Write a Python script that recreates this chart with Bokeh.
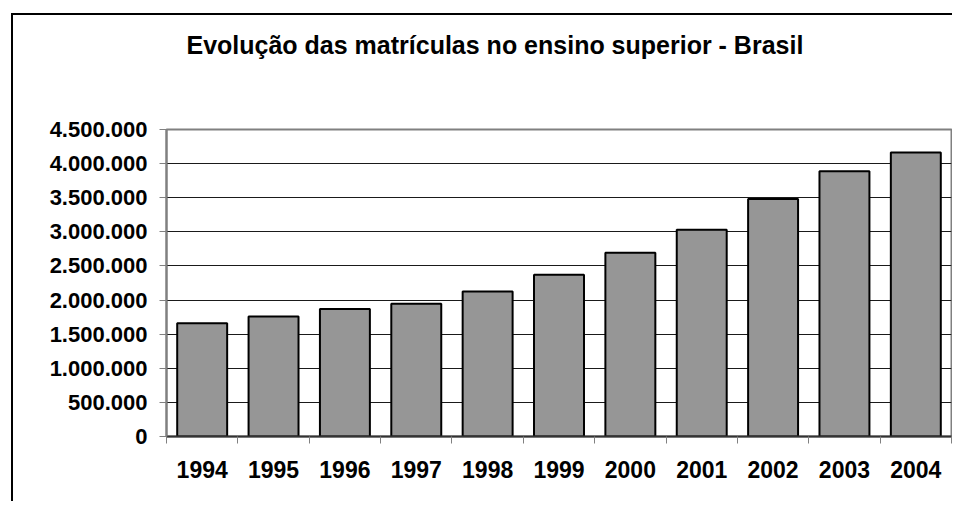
from bokeh.plotting import figure
from bokeh.models import (ColumnDataSource, FixedTicker, Range1d, Title,
                          CustomJSTickFormatter)
from bokeh.embed import file_html
from bokeh.resources import INLINE

# ---- data ----
years = ["1994", "1995", "1996", "1997", "1998", "1999",
         "2000", "2001", "2002", "2003", "2004"]
matriculas = [1661034, 1759703, 1868529, 1945615, 2125958, 2369945,
              2694245, 3030754, 3479913, 3887022, 4163733]
y_ticks = [0, 500000, 1000000, 1500000, 2000000, 2500000,
           3000000, 3500000, 4000000, 4500000]
title_text = "Evolução das matrículas no ensino superior - Brasil"

FONT = "Liberation Sans"

centers = [i + 0.5 for i in range(len(years))]
bounds = list(range(len(years) + 1))

src = ColumnDataSource(dict(x=centers, top=matriculas, year=years))

p = figure(width=941, height=488, output_backend="svg", toolbar_location=None,
           x_range=Range1d(0, len(years)), y_range=Range1d(0, y_ticks[-1]),
           min_border_left=153, min_border_right=3, min_border_top=0,
           min_border_bottom=67, title=None,
           background_fill_color="white", border_fill_color="white")

p.styles = {"margin-left": "11px", "margin-top": "13px",
            "border-left": "2px solid black", "border-top": "2px solid black"}

# titles (spacer first so it sits next to the frame)
p.add_layout(Title(text=" ", text_font_size="10px", standoff=44), "above")
p.add_layout(Title(text=title_text, text_font=FONT, text_font_size="25px",
                   text_font_style="bold", text_color="black", align="left",
                   offset=20, standoff=27), "above")

p.vbar(x="x", top="top", width=0.7, source=src, fill_color="#969696",
       line_color="black", line_width=2)

# frame
p.outline_line_color = "#808080"
p.outline_line_width = 2

# grid
p.xgrid.visible = False
p.ygrid.ticker = FixedTicker(ticks=y_ticks)
p.ygrid.grid_line_color = "#1a1a1a"
p.ygrid.grid_line_width = 1

# y axis
ya = p.yaxis[0]
ya.ticker = FixedTicker(ticks=y_ticks)
ya.formatter = CustomJSTickFormatter(
    code="return tick.toFixed(0).replace(/\\B(?=(\\d{3})+(?!\\d))/g, '.');")
ya.axis_line_color = "#808080"
ya.axis_line_width = 2
ya.major_tick_line_color = "#808080"
ya.major_tick_out = 7
ya.major_tick_in = 0
ya.minor_tick_out = 0
ya.minor_tick_in = 0
ya.major_label_standoff = 12
ya.major_label_text_font = FONT
ya.major_label_text_font_size = "22px"
ya.major_label_text_font_style = "bold"
ya.major_label_text_color = "black"

# x axis
xa = p.xaxis[0]
xa.ticker = FixedTicker(ticks=centers, minor_ticks=bounds)
xa.major_label_overrides = {c: y for c, y in zip(centers, years)}
xa.axis_line_color = "#333333"
xa.axis_line_width = 2
xa.major_tick_out = 0
xa.major_tick_in = 0
xa.minor_tick_out = 7
xa.minor_tick_in = 0
xa.minor_tick_line_color = "#808080"
xa.minor_tick_line_width = 1
xa.major_label_standoff = 17
xa.major_label_text_font = FONT
xa.major_label_text_font_size = "23px"
xa.major_label_text_font_style = "bold"
xa.major_label_text_color = "black"

open("out.html", "w").write(file_html(p, INLINE))
